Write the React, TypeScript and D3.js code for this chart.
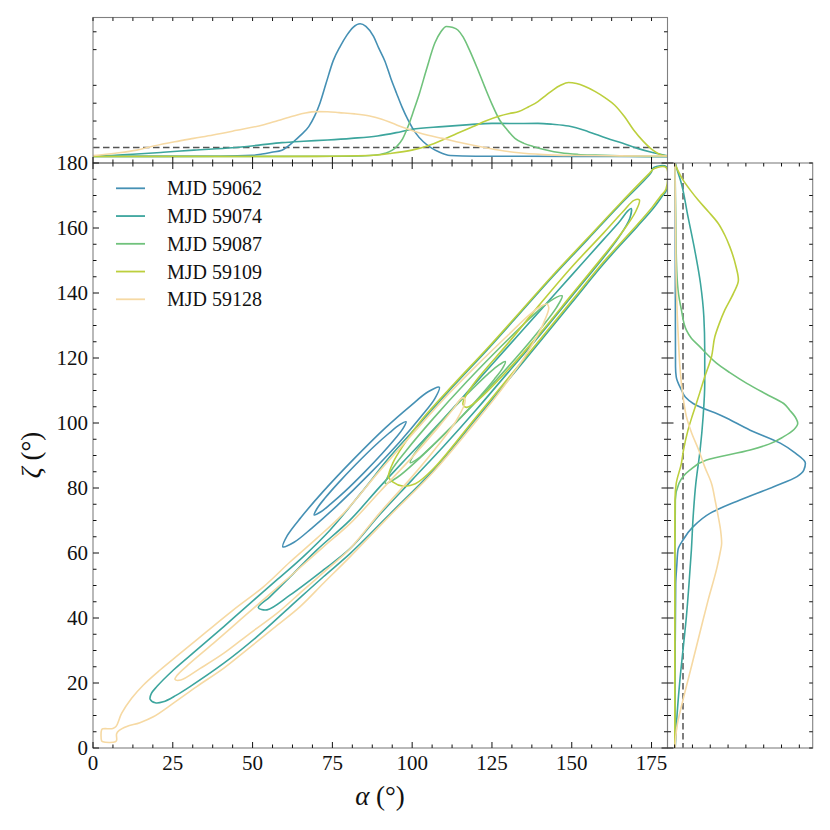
import React, { useEffect, useRef } from 'react';
import * as d3 from 'd3';

type Pt = [number, number];

// series labels and colours
const SERIES = ['MJD 59062', 'MJD 59074', 'MJD 59087', 'MJD 59109', 'MJD 59128'];
const COLORS = ['#4590b4', '#3ca59d', '#70c27c', '#bccf3d', '#f6d9a3'];

// top marginal: [alpha, density]
const alpha59062: Pt[] = [[0,0.02],[20,0.02],[40,0.03],[50,0.08],[53,0.15],[56,0.25],[59.2,0.37],[62.8,0.84],[65,1.2],[67.6,1.69],[69.5,2.3],[71.1,3.0],[73,4.1],[75.3,5.4],[77.5,6.2],[79.5,6.8],[81.5,7.25],[83.7,7.45],[85.5,7.3],[87.9,6.74],[89.5,6.1],[91.5,5.34],[93.3,4.4],[95.1,3.56],[96.9,2.75],[98.7,2.06],[101,1.35],[103.5,0.84],[106,0.5],[108.3,0.28],[111.9,0.07],[120,0.03],[150,0.02],[180,0.0]];
const alpha59074: Pt[] = [[0,0.04],[7,0.08],[13.7,0.15],[22,0.25],[31.6,0.37],[43.6,0.5],[52,0.65],[59.2,0.79],[66,0.87],[73.5,0.94],[81,1.03],[89.1,1.16],[95,1.35],[99.9,1.54],[109.5,1.69],[118,1.8],[125,1.87],[132,1.86],[139.4,1.87],[144,1.82],[149,1.72],[155,1.42],[161,1.03],[166,0.75],[170.6,0.47],[175,0.25],[180,0.06]];
const alpha59087: Pt[] = [[0,0.02],[60,0.02],[80,0.03],[88,0.08],[91.5,0.19],[95.1,0.56],[97,1.0],[98.7,1.69],[100.5,2.6],[102.3,3.56],[104.5,4.9],[107.1,6.37],[109,7.0],[110.7,7.3],[112.5,7.25],[114.3,7.1],[116,6.7],[117.9,6.0],[120.3,5.0],[122.7,3.93],[125,2.95],[127.4,2.06],[129.8,1.5],[132.2,1.03],[135,0.75],[138.2,0.56],[142,0.38],[146.6,0.22],[152,0.13],[157.4,0.09],[165,0.05],[180,0.02]];
const alpha59109: Pt[] = [[0,0.01],[40,0.01],[70,0.02],[86.7,0.07],[93,0.18],[99.9,0.37],[105,0.62],[109.5,0.94],[114,1.3],[119.1,1.69],[123,2.0],[127.4,2.28],[130.5,2.42],[133.4,2.53],[136.5,2.8],[139.4,3.09],[142,3.45],[144.2,3.75],[146.5,4.0],[149,4.16],[151.5,4.1],[154,3.95],[157.4,3.65],[160.5,3.3],[163.4,2.9],[166.5,2.25],[169.4,1.5],[172.5,0.85],[175.4,0.37],[178,0.1],[180,0.04]];
const alpha59128: Pt[] = [[0,0.07],[7,0.2],[13.7,0.37],[19,0.6],[25.6,0.84],[31.5,1.03],[37.6,1.22],[45,1.48],[53.2,1.78],[58,2.03],[62.8,2.28],[66.5,2.45],[70,2.53],[73.5,2.52],[77.1,2.47],[82,2.4],[86.7,2.28],[90.5,2.1],[93.9,1.87],[97.5,1.62],[101.1,1.4],[105,1.2],[109.5,1.03],[115,0.8],[121.5,0.56],[127,0.38],[133.4,0.22],[141,0.12],[151.4,0.07],[165,0.05],[180,0.04]];

// right marginal: [zeta, density]
const zeta59062: Pt[] = [[0,0.02],[30,0.03],[50.5,0.06],[56,0.12],[61,0.19],[64,0.47],[68.1,1.04],[72.2,1.98],[76.3,3.67],[80.4,5.56],[83.5,6.87],[85.5,7.25],[87.6,7.34],[90.7,6.78],[93.8,5.93],[97.8,4.24],[102,2.73],[106,1.04],[108,0.6],[110.2,0.38],[114.2,0.09],[117.3,0.05],[140,0.04],[170,0.03],[180,0.02]];
const zeta59074: Pt[] = [[0,0.03],[2.5,0.06],[9.6,0.13],[19.9,0.28],[30.2,0.47],[40.4,0.66],[50.7,0.81],[60.9,0.94],[71.2,1.04],[81.4,1.19],[91.7,1.43],[102,1.6],[112.2,1.69],[122.5,1.69],[132.7,1.64],[143,1.45],[153.2,1.13],[163.5,0.75],[173.7,0.38],[179,0.09],[180,0.05]];
const zeta59087: Pt[] = [[0,0.02],[60,0.02],[76.3,0.04],[81.4,0.24],[85.5,0.85],[88.6,1.79],[91.7,4.24],[93.5,5.3],[95.8,6.12],[98,6.7],[99.9,6.91],[102,6.75],[104,6.45],[106,6.12],[109,5.1],[112.2,4.05],[115.5,3.1],[118.4,2.35],[121,1.85],[123.5,1.41],[126,0.95],[128.6,0.66],[134.8,0.38],[141,0.19],[150,0.1],[165,0.06],[180,0.02]];
const zeta59109: Pt[] = [[0,0.01],[60,0.01],[76.3,0.02],[81.4,0.09],[87.6,0.38],[91.7,0.5],[97.8,0.75],[102,0.98],[106,1.22],[110,1.45],[114.2,1.69],[120.4,2.07],[126.6,2.26],[130.5,2.5],[134.8,2.82],[139.9,3.3],[144,3.58],[148,3.45],[154.2,3.1],[158,2.8],[161.4,2.45],[165,1.9],[168.6,1.32],[171.5,0.9],[174.8,0.47],[177.5,0.2],[179.4,0.05],[180,0.02]];
const zeta59128: Pt[] = [[0,0.02],[6.6,0.13],[14.8,0.47],[25,0.94],[35.3,1.41],[45.5,1.88],[55.8,2.39],[60,2.55],[63,2.64],[67,2.58],[71.2,2.45],[76,2.28],[81.4,2.07],[86.5,1.69],[91.7,1.35],[97,0.95],[102,0.66],[107,0.5],[112.2,0.38],[117,0.3],[122.5,0.24],[133,0.15],[143,0.09],[160,0.05],[180,0.02]];

// joint contours (alpha, zeta), outer and inner level per epoch
const c59062Outer: Pt[] = [[59.5,61.9],[63.0,63.3],[68.5,67.6],[76.4,74.5],[86.4,84.1],[96.0,94.1],[102.8,102.0],[107.1,107.5],[108.5,111.0],[105.0,109.6],[99.5,105.3],[91.6,98.5],[81.6,88.8],[72.0,78.8],[65.2,71.0],[60.9,65.4]];
const c59062Inner: Pt[] = [[69.3,71.7],[71.3,72.6],[74.5,75.1],[79.1,79.1],[85.0,84.8],[90.6,90.6],[94.7,95.2],[97.2,98.4],[98.1,100.4],[96.1,99.5],[92.9,97.0],[88.3,93.0],[82.4,87.3],[76.8,81.5],[72.7,76.9],[70.2,73.7]];
const c59074Outer: Pt[] = [[17.9,15.0],[19.5,13.9],[22,14.2],[26,16.2],[30.4,18.9],[41,26.1],[51.3,34.2],[61.8,43.5],[72.2,52.7],[80.6,59.9],[93,72],[106.7,85.5],[120,101.2],[135,119],[150,137],[160,149],[170.5,160.4],[175.5,166],[178.2,169.6],[179.7,171.7],[179.7,178.8],[175.7,178.6],[174.7,176.8],[165,167],[155,156.5],[144,145],[134,134],[123.5,122.5],[113,111.5],[103,100.5],[93,89.6],[84,78.5],[74.3,67.1],[65.9,58.9],[57.6,51.7],[49.2,44.5],[40.9,37.3],[32.5,30.2],[25.2,24],[20,18.9],[18.3,16.8]];
const c59074Inner: Pt[] = [[51.8,43.2],[54.5,42.5],[61.8,47.1],[72.2,54.8],[80.6,61.4],[90,72],[100,82.5],[110,93],[120,104],[130,115.5],[140,127],[150,139],[160,151],[165,157.5],[168.2,163],[168.6,166],[167.5,165.2],[165,162],[160,156.5],[150,145.5],[140,134.5],[130,123.5],[120,112.5],[110,101.5],[100,91],[90,80.5],[80.6,70.2],[70.1,60.9],[61.8,52.7],[55.5,46.6]];
const c59087Outer: Pt[] = [[91.6,81.4],[95.4,83.3],[101.6,88.5],[110.3,96.8],[121.6,108.2],[132.5,120.0],[140.3,129.1],[145.2,135.5],[147,139.1],[143.2,137.5],[137.0,132.3],[128.3,124.0],[117.0,112.6],[106.1,100.8],[98.3,91.7],[93.4,85.3]];
const c59087Inner: Pt[] = [[99.4,87.8],[101.5,88.8],[104.8,91.6],[109.5,96.0],[115.6,102.1],[121.4,108.4],[125.7,113.4],[128.3,116.8],[129.2,118.9],[127.2,117.9],[123.8,115.1],[119.1,110.7],[113.0,104.6],[107.2,98.3],[102.9,93.4],[100.3,89.9]];
const c59109Outer: Pt[] = [[92.6,83.4],[94,81.8],[97,80.6],[101,81.3],[106.7,86],[120,101.8],[135,119.6],[150,137.6],[160,149.6],[170.5,161],[175.3,166.5],[177.8,169.8],[179.5,171.9],[179.6,178.6],[175.9,178.3],[174.4,176.9],[165,167.4],[155,156.9],[144,145.4],[134,134.4],[123.5,122.9],[113,111.9],[103,101],[97.5,93.5],[94,87.8]];
const c59109Inner: Pt[] = [[115.9,105.8],[117,104.8],[120,106.5],[130,116.3],[140,127.5],[150,139.5],[160,151.5],[166,159],[170,165],[171.2,168.6],[169.5,168.5],[166,165],[160,158.5],[150,148],[140,136.5],[130,124.5],[120,113],[116.5,107.8]];
const c59128Outer: Pt[] = [[2.7,5.6],[2.7,2.2],[3.1,1.9],[7.0,1.9],[7.4,2.4],[7.4,4.4],[8.2,5.4],[10.6,6.6],[14.7,7.8],[18.9,9.6],[25.2,13.8],[32.5,18.9],[40.9,24.5],[48.2,30.2],[56.5,36.8],[64.9,43.5],[72.2,50.7],[80.6,58.9],[93,71.5],[106.7,85],[120,100.5],[125,106.5],[130,113],[135,120],[139,126.5],[141.5,131.5],[142.8,135.5],[142.2,136.6],[140.5,136],[137,133.5],[130,127],[120,117.5],[110,107.5],[100,96.5],[90,85.5],[78.5,72.2],[70.1,64.5],[61.8,57.3],[53.4,49.6],[44,42.5],[35.6,35.8],[27.3,29.1],[21.0,24],[15.8,19.4],[12.1,15.3],[9.0,10.7],[7.2,6.6],[6.2,6.0],[3.1,5.9]];
const c59128Inner: Pt[] = [[25.7,21.1],[27.5,20.9],[33.6,24.5],[40.9,29.1],[49.2,35.3],[57.6,41.4],[65.9,48.6],[74.3,55.8],[80.6,61.4],[90,72.5],[100,83.5],[108,93],[114,101],[116.6,106.8],[116,107.8],[115,107.2],[113,104.5],[108,98.5],[100,89.5],[90,79],[80.6,69.1],[72.2,61.9],[62.8,53.7],[54.5,46.6],[46.1,39.4],[37.7,32.2],[30.4,26.1],[26.3,22.3]];

const ALPHA_DENS = [alpha59062, alpha59074, alpha59087, alpha59109, alpha59128];
const ZETA_DENS = [zeta59062, zeta59074, zeta59087, zeta59109, zeta59128];
const CONTOURS = [
  [c59062Outer, c59062Inner],
  [c59074Outer, c59074Inner],
  [c59087Outer, c59087Inner],
  [c59109Outer, c59109Inner],
  [c59128Outer, c59128Inner],
];

// reference (prior) levels shown dashed
const PRIOR_ALPHA = 0.52;
const PRIOR_ZETA = 0.47;

const TOP_TICKS = [1, 2, 3, 4, 6, 7];
const RIGHT_TICKS = [0, 1, 2, 3, 4, 5, 6, 7];

const FONT = '"Liberation Serif", "DejaVu Serif", serif';

export default function App() {
  const svgRef = useRef<SVGSVGElement>(null);

  useEffect(() => {
    const svg = d3.select(svgRef.current);
    svg.selectAll('*').remove();

    const main = { left: 93, right: 667.5, top: 163, bottom: 748 };
    const topTop = 17.5;
    const rightRight = 812.7;

    const x = d3.scaleLinear().domain([0, 180]).range([main.left, main.right]);
    const y = d3.scaleLinear().domain([0, 180]).range([main.bottom, main.top]);
    const yTop = d3.scaleLinear().domain([-0.35, 7.8]).range([main.top, topTop]);
    const xRight = d3.scaleLinear().domain([-0.4, 7.75]).range([main.right, rightRight]);

    svg.append('rect').attr('width', 830).attr('height', 830).attr('fill', '#fff');

    const defs = svg.append('defs');
    defs.append('clipPath').attr('id', 'clip-main').append('rect')
      .attr('x', main.left).attr('y', main.top)
      .attr('width', main.right - main.left).attr('height', main.bottom - main.top);
    defs.append('clipPath').attr('id', 'clip-top').append('rect')
      .attr('x', main.left).attr('y', topTop)
      .attr('width', main.right - main.left).attr('height', main.top - topTop);
    defs.append('clipPath').attr('id', 'clip-right').append('rect')
      .attr('x', main.right).attr('y', main.top)
      .attr('width', rightRight - main.right).attr('height', main.bottom - main.top);

    // dashed prior lines
    svg.append('line')
      .attr('x1', main.left).attr('x2', main.right)
      .attr('y1', yTop(PRIOR_ALPHA)).attr('y2', yTop(PRIOR_ALPHA))
      .attr('stroke', '#555').attr('stroke-width', 1.5).attr('stroke-dasharray', '6.5,3.5');
    svg.append('line')
      .attr('x1', xRight(PRIOR_ZETA)).attr('x2', xRight(PRIOR_ZETA))
      .attr('y1', main.top).attr('y2', main.bottom)
      .attr('stroke', '#555').attr('stroke-width', 1.5).attr('stroke-dasharray', '6.5,3.5');

    const topLine = d3.line<Pt>().x(d => x(d[0])).y(d => yTop(d[1])).curve(d3.curveMonotoneX);
    const rightLine = d3.line<Pt>().x(d => xRight(d[1])).y(d => y(d[0])).curve(d3.curveMonotoneY);
    const contourLine = d3.line<Pt>().x(d => x(d[0])).y(d => y(d[1]))
      .curve(d3.curveCatmullRomClosed.alpha(0.5));

    const gTop = svg.append('g').attr('clip-path', 'url(#clip-top)');
    const gRight = svg.append('g').attr('clip-path', 'url(#clip-right)');
    const gMain = svg.append('g').attr('clip-path', 'url(#clip-main)');

    SERIES.forEach((_, i) => {
      gTop.append('path').attr('d', topLine(ALPHA_DENS[i]))
        .attr('fill', 'none').attr('stroke', COLORS[i]).attr('stroke-width', 1.6);
      gRight.append('path').attr('d', rightLine(ZETA_DENS[i]))
        .attr('fill', 'none').attr('stroke', COLORS[i]).attr('stroke-width', 1.6);
      CONTOURS[i].forEach(c => {
        gMain.append('path').attr('d', contourLine(c))
          .attr('fill', 'none').attr('stroke', COLORS[i]).attr('stroke-width', 1.6)
          .attr('stroke-linejoin', 'round');
      });
    });

    // frames
    const frame = (x0: number, y0: number, x1: number, y1: number) =>
      svg.append('rect').attr('x', x0).attr('y', y0).attr('width', x1 - x0).attr('height', y1 - y0)
        .attr('fill', 'none').attr('stroke', '#808080').attr('stroke-width', 1.1);
    frame(main.left, topTop, main.right, main.top);
    frame(main.left, main.top, main.right, main.bottom);
    frame(main.right, main.top, rightRight, main.bottom);

    // ticks
    const gt = svg.append('g').attr('stroke', '#111').attr('stroke-width', 1);
    const vTick = (px: number, py: number, len: number) =>
      gt.append('line').attr('x1', px).attr('x2', px).attr('y1', py).attr('y2', py + len);
    const hTick = (px: number, py: number, len: number) =>
      gt.append('line').attr('x1', px).attr('x2', px + len).attr('y1', py).attr('y2', py);

    const xMajor = d3.range(0, 180, 25);
    const xMinor = d3.range(0, 180.01, 6.25).filter(v => v % 25 !== 0);
    const yMajor = d3.range(0, 180.01, 20);
    const yMinor = d3.range(0, 180.01, 5).filter(v => v % 20 !== 0);

    xMajor.forEach(v => {
      vTick(x(v), main.bottom, -6);
      vTick(x(v), main.top, 6);
      vTick(x(v), main.top, -6);
      vTick(x(v), topTop, 3.5);
    });
    xMinor.forEach(v => {
      vTick(x(v), main.bottom, -3.5);
      vTick(x(v), main.top, 3.5);
      vTick(x(v), main.top, -3.5);
      vTick(x(v), topTop, 3.5);
    });
    yMajor.forEach(v => {
      hTick(main.left, y(v), 6);
      hTick(main.right, y(v), -6);
      hTick(main.right, y(v), 6);
      hTick(rightRight, y(v), -3.5);
    });
    yMinor.forEach(v => {
      hTick(main.left, y(v), 3.5);
      hTick(main.right, y(v), -3.5);
      hTick(main.right, y(v), 3.5);
      hTick(rightRight, y(v), -3.5);
    });
    TOP_TICKS.forEach(v => {
      hTick(main.left, yTop(v), 3.5);
      hTick(main.right, yTop(v), -3.5);
    });
    RIGHT_TICKS.forEach(v => {
      vTick(xRight(v), main.top, 3.5);
      vTick(xRight(v), main.bottom, -3.5);
    });

    // tick labels
    const gl = svg.append('g').style('font-family', FONT).style('font-size', '21px').attr('fill', '#111');
    xMajor.forEach(v => {
      gl.append('text').attr('x', x(v)).attr('y', main.bottom + 22)
        .attr('text-anchor', 'middle').text(v);
    });
    yMajor.forEach(v => {
      gl.append('text').attr('x', main.left - 5).attr('y', y(v)).attr('dy', '0.33em')
        .attr('text-anchor', 'end').text(v);
    });

    // axis labels
    const ax = svg.append('text').attr('x', 380).attr('y', 805)
      .attr('text-anchor', 'middle').style('font-family', FONT).style('font-size', '27px').attr('fill', '#111');
    ax.append('tspan').attr('font-style', 'italic').text('α');
    ax.append('tspan').text(' (°)');
    const zy = svg.append('text').attr('transform', 'translate(40,455) rotate(-90)')
      .attr('text-anchor', 'middle').style('font-family', FONT).style('font-size', '27px').attr('fill', '#111');
    zy.append('tspan').attr('font-style', 'italic').text('ζ');
    zy.append('tspan').text(' (°)');

    // legend
    const lg = svg.append('g');
    SERIES.forEach((name, i) => {
      const ly = 188.3 + i * 27.75;
      lg.append('line').attr('x1', 116).attr('x2', 145).attr('y1', ly).attr('y2', ly)
        .attr('stroke', COLORS[i]).attr('stroke-width', 1.8);
      lg.append('text').attr('x', 167).attr('y', ly).attr('dy', '0.35em')
        .style('font-family', FONT).style('font-size', '20px').attr('fill', '#111').text(name);
    });
  }, []);

  return (
    <svg
      ref={svgRef}
      width={830}
      height={830}
      viewBox="0 0 830 830"
      style={{ position: 'absolute', left: 0, top: 0 }}
    />
  );
}
